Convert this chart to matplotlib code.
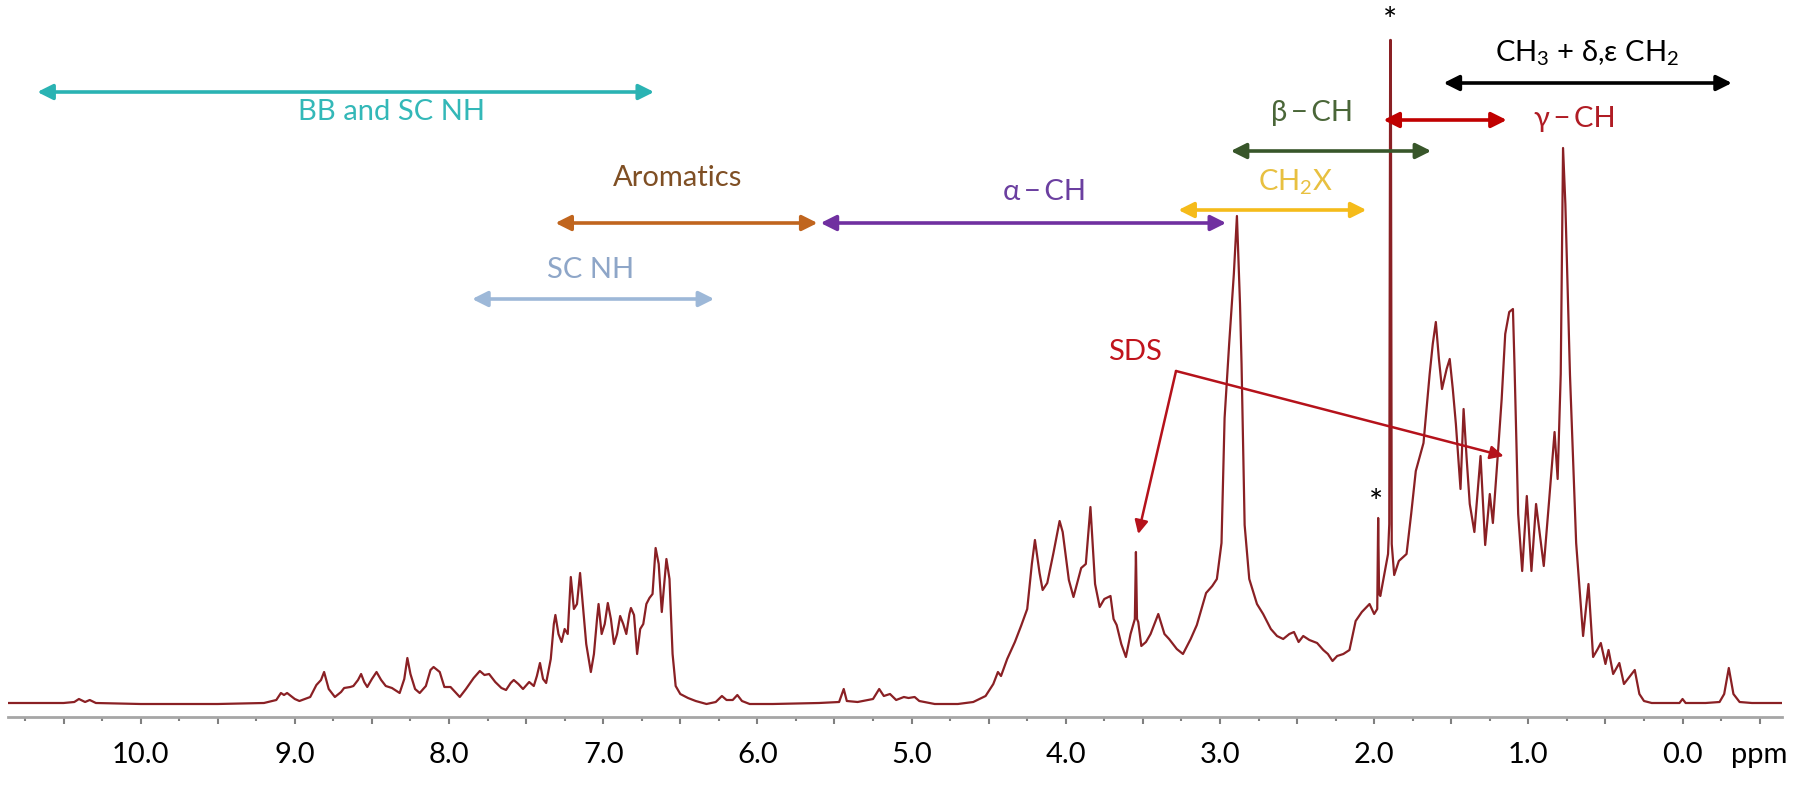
import matplotlib
matplotlib.use("Agg")
import matplotlib.pyplot as plt
from matplotlib.ticker import MultipleLocator
import numpy as np

plt.rcParams['font.family'] = ['Lato', 'DejaVu Sans']
plt.rcParams['mathtext.fontset'] = 'custom'
plt.rcParams['mathtext.rm'] = 'Lato'
plt.rcParams['mathtext.it'] = 'Lato:italic'

# 1H spectrum: chemical shift (ppm) and intensity (arb.)
ppm = [10.86, 10.5, 10.43, 10.40, 10.36, 10.33, 10.29, 10.0, 9.5, 9.2, 9.12,
       9.09, 9.07, 9.05, 9.00, 8.97, 8.90, 8.86, 8.83, 8.81, 8.78, 8.74, 8.70,
       8.68, 8.64, 8.62, 8.59, 8.57, 8.55, 8.53, 8.50, 8.47, 8.44, 8.41, 8.37,
       8.32, 8.29, 8.27, 8.25, 8.22, 8.19, 8.15, 8.12, 8.10, 8.06, 8.03, 7.99,
       7.96, 7.93, 7.89, 7.84, 7.80, 7.77, 7.74, 7.70, 7.66, 7.63, 7.60, 7.58,
       7.55, 7.52, 7.48, 7.45, 7.43, 7.41, 7.39, 7.37, 7.34, 7.32, 7.31, 7.29,
       7.27, 7.25, 7.23, 7.21, 7.19, 7.17, 7.15, 7.13, 7.11, 7.08, 7.06, 7.04,
       7.03, 7.01, 6.99, 6.97, 6.95, 6.93, 6.91, 6.89, 6.87, 6.85, 6.83, 6.82,
       6.80, 6.78, 6.76, 6.74, 6.72, 6.70, 6.68, 6.66, 6.64, 6.62, 6.61, 6.59,
       6.57, 6.55, 6.53, 6.50, 6.45, 6.40, 6.33, 6.27, 6.23, 6.20, 6.16, 6.13,
       6.10, 6.05, 5.90, 5.60, 5.47, 5.44, 5.42, 5.35, 5.25, 5.21, 5.18, 5.14,
       5.10, 5.05, 5.02, 4.98, 4.95, 4.85, 4.70, 4.60, 4.52, 4.47, 4.44, 4.42,
       4.38, 4.33, 4.29, 4.25, 4.22, 4.20, 4.17, 4.15, 4.12, 4.08, 4.04, 4.02,
       3.98, 3.95, 3.90, 3.87, 3.84, 3.81, 3.78, 3.75, 3.71, 3.69, 3.67, 3.64,
       3.61, 3.58, 3.552, 3.545, 3.538, 3.53, 3.51, 3.48, 3.45, 3.40, 3.36, 3.33,
       3.28, 3.24, 3.19, 3.15, 3.09, 3.05, 3.02, 2.99, 2.97, 2.94, 2.91, 2.89,
       2.87, 2.86, 2.84, 2.81, 2.76, 2.72, 2.67, 2.63, 2.59, 2.55, 2.52, 2.49,
       2.46, 2.42, 2.37, 2.33, 2.30, 2.27, 2.24, 2.20, 2.16, 2.12, 2.08, 2.03,
       2.00, 1.98, 1.974, 1.968, 1.96, 1.94, 1.91, 1.902, 1.896, 1.892, 1.886,
       1.87, 1.84, 1.79, 1.76, 1.73, 1.68, 1.64, 1.62, 1.60, 1.58, 1.56, 1.53,
       1.51, 1.49, 1.47, 1.44, 1.42, 1.40, 1.38, 1.35, 1.31, 1.28, 1.25, 1.23,
       1.20, 1.173, 1.15, 1.124, 1.10, 1.09, 1.066, 1.04, 1.01, 0.98, 0.95,
       0.90, 0.865, 0.83, 0.81, 0.79, 0.775, 0.76, 0.73, 0.69, 0.645, 0.61,
       0.58, 0.55, 0.53, 0.50, 0.48, 0.45, 0.41, 0.38, 0.34, 0.31, 0.28, 0.25,
       0.20, 0.10, 0.02, 0.0, -0.02, -0.15, -0.24, -0.27, -0.30, -0.33, -0.37,
       -0.45, -0.645]
intensity = [1, 1, 2, 5, 2, 4, 1, 0, 0, 1, 4,
             11, 9, 11, 5, 3, 7, 19, 24, 32, 15, 7, 12,
             16, 17, 18, 24, 30, 22, 17, 25, 32, 24, 18, 16,
             11, 25, 46, 30, 15, 11, 18, 34, 37, 32, 17, 17,
             12, 7, 15, 26, 33, 29, 30, 22, 16, 14, 21, 24,
             20, 15, 22, 18, 28, 41, 25, 21, 45, 80, 89, 70,
             62, 75, 70, 127, 95, 100, 131, 95, 60, 32, 50, 85,
             100, 70, 80, 101, 85, 60, 70, 88, 80, 70, 90, 96,
             89, 50, 75, 80, 100, 106, 110, 156, 140, 92, 110, 145,
             125, 50, 18, 10, 6, 3, 0, 2, 8, 4, 4, 9,
             3, 0, 0, 1, 2, 15, 3, 2, 5, 15, 8, 10,
             4, 7, 6, 7, 3, 0, 0, 2, 8, 20, 32, 28,
             45, 62, 78, 95, 140, 164, 131, 114, 121, 151, 183, 172,
             124, 107, 136, 140, 197, 120, 97, 105, 108, 85, 79, 60,
             47, 70, 85, 152, 85, 82, 58, 62, 70, 90, 70, 65,
             55, 50, 65, 79, 111, 118, 125, 161, 286, 361, 430, 488,
             400, 340, 179, 125, 100, 90, 75, 68, 65, 70, 72, 62,
             68, 64, 61, 54, 50, 43, 48, 50, 54, 83, 92, 100,
             90, 95, 186, 110, 108, 125, 150, 180, 664, 664, 160,
             129, 143, 150, 190, 233, 261, 330, 360, 382, 345, 315, 335,
             345, 315, 280, 215, 295, 245, 200, 172, 248, 159, 210, 181,
             245, 305, 370, 392, 395, 340, 190, 133, 208, 133, 200,
             138, 204, 272, 225, 330, 556, 500, 329, 161, 68, 120,
             47, 55, 61, 40, 54, 30, 41, 20, 28, 34, 10, 3,
             1, 1, 1, 5, 1, 1, 2, 10, 36, 10, 2,
             1, 1]

# assignment ranges (ppm)
region_labels = ['BB and SC NH', 'Aromatics', 'SC NH', 'α\u2009−\u2009CH',
                 'CH$_2$X', 'β\u2009−\u2009CH', 'γ\u2009−\u2009CH',
                 'CH$_3$ + δ,ε CH$_2$']
region_start = [10.67, 7.31, 7.85, 5.59, 3.27, 2.93, 1.94, 1.55]
region_end = [6.67, 5.61, 6.28, 2.96, 2.05, 1.63, 1.14, -0.32]

tick_pos = np.arange(10.5, -0.75, -0.5)
tick_text = ['', '10.0', '', '9.0', '', '8.0', '', '7.0', '', '6.0', '', '5.0',
             '', '4.0', '', '3.0', '', '2.0', '', '1.0', '', '0.0', 'ppm']

fig = plt.figure(figsize=(18, 7.86), dpi=100)
ax = fig.add_axes([8 / 1800, 1 - 717 / 786, 1774 / 1800, 717 / 786])

ax.plot(ppm, intensity, color='#8a2024', lw=1.6, solid_joinstyle='round')

ax.set_xlim(10.86, -0.645)
ax.set_ylim(-13, 704)

for s in ['left', 'right', 'top']:
    ax.spines[s].set_visible(False)
ax.spines['bottom'].set_color('#a6a6a6')
ax.spines['bottom'].set_linewidth(2)
ax.set_yticks([])
ax.set_xticks(tick_pos)
ax.set_xticklabels(tick_text)
ax.xaxis.set_minor_locator(MultipleLocator(0.25))
ax.tick_params(axis='x', which='major', length=5, width=1.5, color='#808080',
               labelsize=21, pad=13, labelcolor='black')
ax.tick_params(axis='x', which='minor', length=3, width=1.5, color='#808080')

# arrow heights and label placement (ppm, intensity units)
arrow_y = [612, 481, 405, 481, 494, 553, 584, 621]
text_xy = [(8.37, 592), (6.52, 526), (7.08, 434), (4.14, 512), (2.51, 522),
           (2.40, 591), (0.70, 585), (0.62, 651)]
arrow_col = ['#2ab3b3', '#c0651e', '#9db8d8', '#7030a0', '#f5bb1a',
             '#38562a', '#c00000', '#000000']
text_col = ['#33b8b8', '#7f4f24', '#8ea6c8', '#6b3fa0', '#e8c040',
            '#4a6638', '#b01c24', '#000000']

for i, lab in enumerate(region_labels):
    ax.annotate('', xy=(region_end[i], arrow_y[i]),
                xytext=(region_start[i], arrow_y[i]),
                arrowprops=dict(arrowstyle='<|-|>', color=arrow_col[i], lw=2.6,
                                mutation_scale=23, shrinkA=0, shrinkB=0))
    ax.text(text_xy[i][0], text_xy[i][1], lab, color=text_col[i], fontsize=21,
            ha='center', va='center')

# SDS pointer
ax.text(3.55, 352, 'SDS', color='#c0141c', fontsize=21, ha='center', va='center')
for tip in [(3.53, 170), (1.16, 248)]:
    ax.annotate('', xy=tip, xytext=(3.285, 333),
                arrowprops=dict(arrowstyle='-|>', color='#b5121b', lw=1.8,
                                mutation_scale=20, shrinkA=0, shrinkB=0))

# solvent / impurity marks
ax.text(1.90, 682, '*', fontsize=24, ha='center', va='center', color='black')
ax.text(1.99, 200, '*', fontsize=24, ha='center', va='center', color='black')

fig.savefig('out.png', dpi=100)
